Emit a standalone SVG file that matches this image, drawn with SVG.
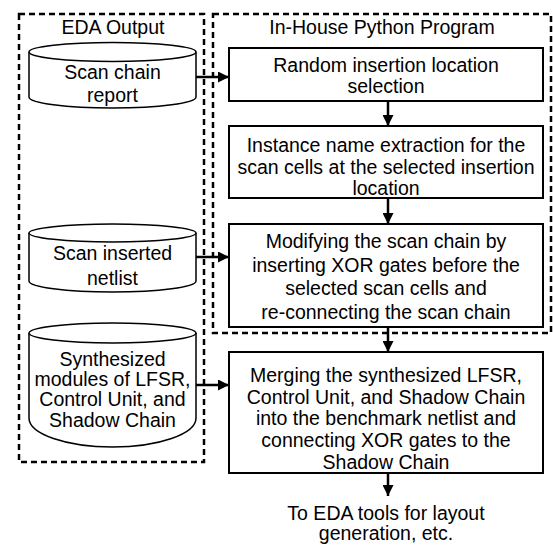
<svg xmlns="http://www.w3.org/2000/svg" width="553" height="548" viewBox="0 0 553 548">
<style>
text{font-family:"Liberation Sans",Arial,sans-serif;font-size:19.5px;fill:#000;text-anchor:middle}
.dash{fill:none;stroke:#000;stroke-width:2.5;stroke-dasharray:6 4}
.box{fill:#fff;stroke:#000;stroke-width:2}
.cyl{fill:#fff;stroke:#000;stroke-width:1.5}
.conn{fill:none;stroke:#000;stroke-width:2.5}
</style>
<defs>
<marker id="ah" viewBox="0 0 10 10" refX="10" refY="5" markerWidth="4.4" markerHeight="4.4" orient="auto" markerUnits="strokeWidth">
<path d="M0,0 L10,5 L0,10 z" fill="#000"/>
</marker>
</defs>
<rect width="553" height="548" fill="#fff"/>
<g id="eda-output">
<rect class="dash" x="19" y="14" width="185" height="448"/>
<text x="113" y="34">EDA Output</text>
</g>
<g id="python-program">
<rect class="dash" x="213" y="14" width="338" height="319"/>
<text x="382" y="34">In-House Python Program</text>
</g>
<g id="cyl-report">
<path class="cyl" d="M29,52 L29,97 A83.5,11 0 0 0 196,97 L196,52"/>
<ellipse class="cyl" cx="112.5" cy="52" rx="83.5" ry="9.5"/>
<text x="112.5" y="79">Scan chain</text>
<text x="112.5" y="102">report</text>
</g>
<g id="cyl-netlist">
<path class="cyl" d="M29,233 L29,281 A83.5,11 0 0 0 196,281 L196,233"/>
<ellipse class="cyl" cx="112.5" cy="233" rx="83.5" ry="9"/>
<text x="112.5" y="260">Scan inserted</text>
<text x="112.5" y="285">netlist</text>
</g>
<g id="cyl-modules">
<path class="cyl" d="M29,333 L29,418 A83.5,29 0 0 0 196,418 L196,333"/>
<ellipse class="cyl" cx="112.5" cy="333" rx="83.5" ry="10"/>
<text x="112.5" y="366">Synthesized</text>
<text x="112.5" y="386">modules of LFSR,</text>
<text x="112.5" y="406">Control Unit, and</text>
<text x="112.5" y="427">Shadow Chain</text>
</g>
<g id="box1">
<rect class="box" x="229" y="48" width="314" height="53"/>
<text x="386" y="72">Random insertion location</text>
<text x="386" y="93">selection</text>
</g>
<g id="box2">
<rect class="box" x="229" y="126" width="314" height="72"/>
<text x="386" y="152">Instance name extraction for the</text>
<text x="386" y="174">scan cells at the selected insertion</text>
<text x="386" y="195">location</text>
</g>
<g id="box3">
<rect class="box" x="229" y="224" width="314" height="103"/>
<text x="386" y="248">Modifying the scan chain by</text>
<text x="386" y="272">inserting XOR gates before the</text>
<text x="386" y="295">selected scan cells and</text>
<text x="386" y="319">re-connecting the scan chain</text>
</g>
<g id="box4">
<rect class="box" x="229" y="352" width="314" height="121"/>
<text x="386" y="382">Merging the synthesized LFSR,</text>
<text x="386" y="404">Control Unit, and Shadow Chain</text>
<text x="386" y="425">into the benchmark netlist and</text>
<text x="386" y="447">connecting XOR gates to the</text>
<text x="386" y="469">Shadow Chain</text>
</g>
<g id="output-label">
<text x="386" y="520">To EDA tools for layout</text>
<text x="386" y="540">generation, etc.</text>
</g>
<g id="connectors">
<line class="conn" x1="196" y1="77" x2="229" y2="77" marker-end="url(#ah)"/>
<line class="conn" x1="196" y1="257" x2="229" y2="257" marker-end="url(#ah)"/>
<line class="conn" x1="196" y1="385" x2="229" y2="385" marker-end="url(#ah)"/>
<line class="conn" x1="388" y1="101" x2="388" y2="126" marker-end="url(#ah)"/>
<line class="conn" x1="388" y1="198" x2="388" y2="224" marker-end="url(#ah)"/>
<line class="conn" x1="388" y1="327" x2="388" y2="352" marker-end="url(#ah)"/>
<line class="conn" x1="388" y1="473" x2="388" y2="496" marker-end="url(#ah)"/>
</g>
</svg>
